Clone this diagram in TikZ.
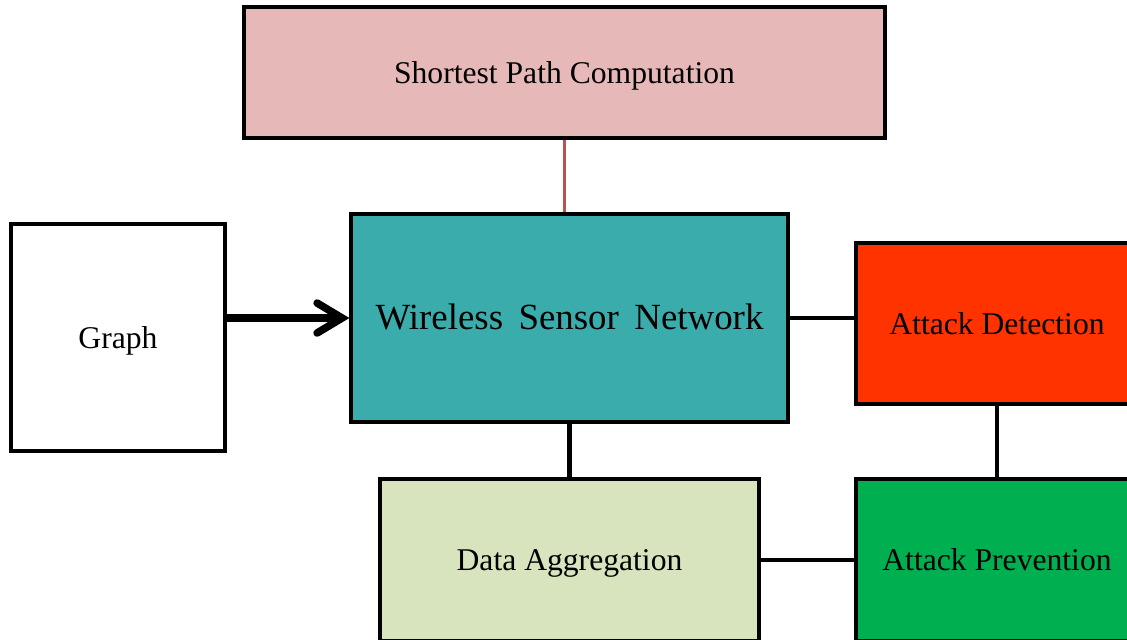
\documentclass[tikz,border=0pt]{standalone}
\usepackage{fontspec}
\setmainfont{Liberation Serif}
\usepackage{tikz}
\usetikzlibrary{arrows.meta, positioning}
\definecolor{pathpink}{RGB}{230,185,184}
\definecolor{pathline}{RGB}{192,80,77}
\definecolor{wsnteal}{RGB}{59,172,172}
\definecolor{detectred}{RGB}{255,51,0}
\definecolor{preventgreen}{RGB}{0,176,80}
\definecolor{aggrgreen}{RGB}{215,228,189}

\begin{document}
\begin{tikzpicture}[
    block/.style={rectangle, draw=black, line width=1.8pt, font=\fontsize{18}{20}\selectfont, inner sep=0pt, text height=16pt, text depth=3.6pt},
    link/.style={line width=2.2pt},
    arrow/.style={-{Straight Barb[length=0.5cm, width=0.6cm, line cap=round]}, line width=4.3pt}
]
    \useasboundingbox (0, 0) rectangle (22.54, -12.78);
    \clip (0, 0) rectangle (22.54, -12.78);

    % Top
    \node[block, fill=pathpink, minimum width=12.82cm, minimum height=2.62cm] (spc) at (11.29, -1.45) {Shortest Path Computation};

    % Middle row
    \node[block, fill=white, minimum width=4.28cm, minimum height=4.54cm] (graph) at (2.36, -6.75) {Graph};
    \node[block, fill=wsnteal, minimum width=8.74cm, minimum height=4.16cm, font=\fontsize{21}{24}\selectfont, text height=17pt, text depth=4pt] (wsn) at (11.39, -6.36) {Wireless\, Sensor\, Network};
    \node[block, fill=detectred, minimum width=5.64cm, minimum height=3.22cm] (detect) at (19.94, -6.47) {Attack Detection};

    % Bottom row
    \node[block, fill=aggrgreen, minimum width=7.58cm, minimum height=3.24cm] (aggr) at (11.39, -11.2) {Data Aggregation};
    \node[block, fill=preventgreen, minimum width=5.64cm, minimum height=3.24cm] (prevent) at (19.94, -11.2) {Attack Prevention};

    % Connectors
    \draw[line width=1.7pt, pathline] (spc.south) -- (spc.south |- wsn.north);
    \draw[arrow] (graph.east |- wsn.west) -- (wsn.west);
    \draw[link] (wsn.east) -- (wsn.east -| detect.west);
    \draw[line width=3.4pt] (wsn.south) -- (aggr.north);
    \draw[link] (detect.south) -- (prevent.north);
    \draw[link] (aggr.east) -- (prevent.west);
\end{tikzpicture}
\end{document}
